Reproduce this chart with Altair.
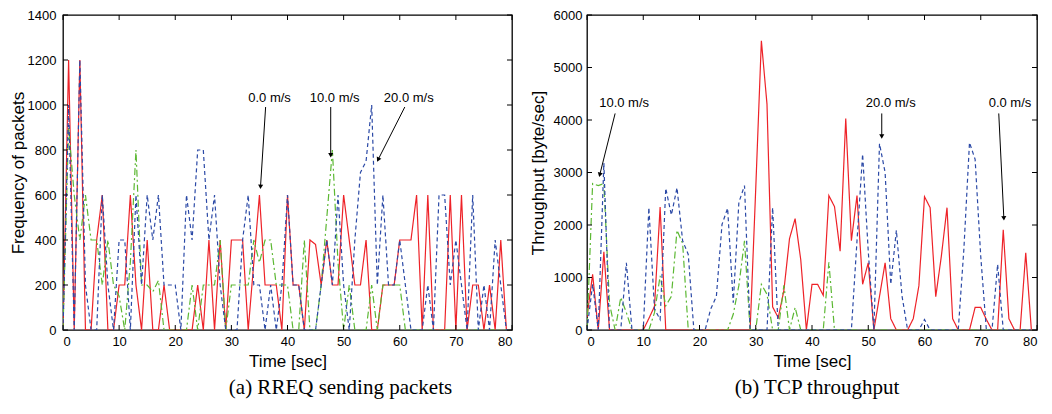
import altair as alt
import pandas as pd

# ---------------- data ----------------
time_s = list(range(80))
series_names = ["0.0 m/s", "10.0 m/s", "20.0 m/s"]
line_colors = ["#ee2228", "#5cb833", "#2b49a6"]
line_dashes = [[1, 0], [7, 3, 2, 3], [4, 3]]

x_ticks = [0, 10, 20, 30, 40, 50, 60, 70, 80]
rreq_ticks = [0, 200, 400, 600, 800, 1000, 1200, 1400]
tcp_ticks = [0, 1000, 2000, 3000, 4000, 5000, 6000]

# (a) RREQ sending packets
rreq_0 = [0, 1200, 0, 1200, 0, 0, 400, 600, 0, 0,
          200, 200, 600, 200, 0, 400, 0, 0, 200, 0,
          0, 0, 0, 0, 200, 0, 400, 0, 400, 0,
          400, 400, 400, 0, 300, 600, 200, 200, 200, 0,
          600, 200, 200, 0, 400, 380, 200, 400, 200, 200,
          600, 400, 200, 200, 400, 0, 0, 200, 200, 200,
          400, 400, 400, 600, 0, 600, 0, 0, 0, 600,
          0, 600, 0, 200, 200, 0, 200, 0, 400, 0]
rreq_10 = [0, 900, 600, 400, 600, 400, 400, 200, 400, 200,
           150, 0, 300, 800, 200, 200, 170, 220, 0, 0,
           0, 0, 0, 200, 0, 200, 200, 200, 400, 0,
           200, 200, 200, 200, 400, 300, 400, 400, 200, 200,
           200, 0, 0, 400, 0, 0, 200, 500, 800, 300,
           0, 200, 0, 0, 0, 200, 0, 200, 200, 200,
           200, 0, 0, 0, 0, 0, 0, 0, 0, 0,
           0, 0, 0, 0, 0, 0, 0, 0, 0, 0]
rreq_20 = [0, 1000, 0, 1200, 200, 0, 0, 600, 200, 0,
           400, 400, 0, 600, 200, 600, 400, 600, 200, 200,
           200, 0, 600, 400, 800, 800, 400, 600, 200, 0,
           0, 0, 400, 600, 200, 200, 0, 200, 0, 200,
           600, 200, 200, 0, 0, 0, 200, 400, 200, 600,
           200, 0, 400, 700, 750, 1000, 200, 600, 200, 200,
           400, 200, 0, 0, 0, 200, 0, 600, 600, 200,
           400, 200, 0, 600, 0, 200, 0, 400, 200, 0]

# (b) TCP throughput
tcp_0 = [250, 1060, 0, 1490, 0, 0, 0, 0, 0, 0,
         0, 220, 450, 2340, 0, 0, 0, 0, 0, 0,
         0, 0, 0, 0, 0, 0, 0, 0, 0, 0,
         2700, 5510, 4300, 440, 235, 750, 1740, 2120, 1340, 0,
         870, 870, 660, 2560, 2350, 1500, 4030, 1700, 2560, 870,
         1280, 0, 640, 1280, 216, 0, 0, 0, 216, 840,
         2540, 2330, 635, 1410, 2330, 216, 0, 0, 0, 430,
         430, 200, 0, 0, 1910, 216, 0, 0, 1470, 0]
tcp_10 = [0, 2790, 2750, 2790, 500, 0, 620, 330, 0, 0,
          0, 0, 330, 1030, 460, 640, 1900, 1650, 0, 0,
          0, 0, 0, 0, 0, 0, 300, 850, 1700, 0,
          0, 870, 680, 0, 0, 850, 0, 430, 0, 0,
          0, 0, 0, 1290, 0, 0, 0, 0, 0, 0,
          0, 0, 0, 0, 0, 0, 0, 0, 0, 0,
          0, 0, 0, 0, 0, 0, 0, 0, 0, 0,
          0, 0, 0, 0, 0, 0, 0, 0, 0, 0]
tcp_20 = [0, 870, 0, 3180, 0, 0, 0, 1280, 0, 0,
          0, 2330, 400, 200, 2700, 2190, 2710, 1700, 1440, 0,
          0, 0, 400, 640, 2010, 2320, 520, 2430, 2750, 0,
          0, 0, 0, 2330, 0, 0, 0, 0, 0, 0,
          0, 0, 0, 0, 0, 0, 0, 0, 1700, 3350,
          1500, 0, 3550, 3000, 870, 1900, 650, 0, 0, 0,
          200, 0, 0, 0, 0, 0, 0, 1540, 3570, 3250,
          1400, 0, 0, 1250, 0, 0, 0, 0, 0, 0]

# annotations (data coordinates)
rreq_ann_text = ["0.0 m/s", "10.0 m/s", "20.0 m/s"]
rreq_ann_tx = [36.8, 48.4, 61.6]
rreq_ann_ty = [1031, 1031, 1031]
rreq_arrow_x1 = [36.1, 47.7, 60.9]
rreq_arrow_y1 = [991, 991, 991]
rreq_arrow_x2 = [35.2, 47.7, 56.2]
rreq_arrow_y2 = [640, 780, 760]
rreq_arrow_angle = [183.5, 180, 205.7]

tcp_ann_text = ["10.0 m/s", "20.0 m/s", "0.0 m/s"]
tcp_ann_tx = [6.6, 54.0, 75.2]
tcp_ann_ty = [4316, 4316, 4316]
tcp_arrow_x1 = [5.0, 52.4, 73.2]
tcp_arrow_y1 = [4125, 4125, 4125]
tcp_arrow_x2 = [2.3, 52.4, 74.1]
tcp_arrow_y2 = [2970, 3700, 2140]
tcp_arrow_angle = [194.3, 180, 177.3]

FONT = "Liberation Sans"


def long_df(a, b, c):
    rows = []
    for name, vals in zip(series_names, (a, b, c)):
        for t, v in zip(time_s, vals):
            rows.append({"t": t, "v": v, "s": name})
    return pd.DataFrame(rows)


def panel(vals, yticks, ymax, ytitle, ann, caption, cap_dx, W, H,
          y_lab_pad, y_title_pad, x_lab_pad, x_title_pad):
    df = long_df(*vals)
    xs = alt.Scale(domain=[0, 80], nice=False, zero=False)
    ys = alt.Scale(domain=[0, ymax], nice=False)
    xa = alt.Axis(values=x_ticks, title="Time [sec]", format="d",
                  labelPadding=x_lab_pad, titlePadding=x_title_pad)
    ya = alt.Axis(values=yticks, title=ytitle, format="d",
                  labelPadding=y_lab_pad, titlePadding=y_title_pad)

    lines = alt.Chart(df).mark_line(strokeWidth=1.2, clip=True).encode(
        x=alt.X("t:Q", scale=xs, axis=xa),
        y=alt.Y("v:Q", scale=ys, axis=ya),
        color=alt.Color("s:N", scale=alt.Scale(domain=series_names, range=line_colors),
                        legend=None),
        strokeDash=alt.StrokeDash("s:N", scale=alt.Scale(domain=series_names, range=line_dashes),
                                  legend=None),
    )

    xt = pd.DataFrame({"t": x_ticks})
    yt = pd.DataFrame({"v": yticks})
    tick_style = dict(color="black", strokeWidth=1)
    t_top = alt.Chart(xt).mark_rule(**tick_style).encode(
        x=alt.X("t:Q", scale=xs, axis=xa), y=alt.value(0), y2=alt.value(5))
    t_bot = alt.Chart(xt).mark_rule(**tick_style).encode(
        x=alt.X("t:Q", scale=xs, axis=xa), y=alt.value(H), y2=alt.value(H - 5))
    t_left = alt.Chart(yt).mark_rule(**tick_style).encode(
        y=alt.Y("v:Q", scale=ys, axis=ya), x=alt.value(0), x2=alt.value(5))
    t_right = alt.Chart(yt).mark_rule(**tick_style).encode(
        y=alt.Y("v:Q", scale=ys, axis=ya), x=alt.value(W), x2=alt.value(W - 5))

    text, tx, ty, x1, y1, x2, y2, ang = ann
    adf = pd.DataFrame({"t": tx, "v": ty, "label": text, "x1": x1, "y1": y1,
                        "x2": x2, "y2": y2, "ang": ang})
    arr = alt.Chart(adf).mark_rule(color="black", strokeWidth=1).encode(
        x=alt.X("x1:Q", scale=xs, axis=xa), y=alt.Y("y1:Q", scale=ys, axis=ya),
        x2="x2:Q", y2="y2:Q")
    head = alt.Chart(adf).mark_point(shape="triangle", filled=True, size=26,
                                     color="black", opacity=1).encode(
        x=alt.X("x2:Q", scale=xs, axis=xa), y=alt.Y("y2:Q", scale=ys, axis=ya),
        angle=alt.Angle("ang:Q", scale=None))
    txt = alt.Chart(adf).mark_text(font=FONT, fontSize=13, color="black",
                                   align="center", baseline="middle").encode(
        x=alt.X("t:Q", scale=xs, axis=xa), y=alt.Y("v:Q", scale=ys, axis=ya),
        text="label:N")

    return alt.layer(lines, t_top, t_bot, t_left, t_right, arr, head, txt).properties(
        width=W, height=H,
        title=alt.TitleParams(caption, orient="bottom", anchor="middle", frame="group",
                              dx=cap_dx, offset=8, font="Liberation Serif", fontSize=21,
                              fontWeight="normal", color="black"))


left = panel((rreq_0, rreq_10, rreq_20), rreq_ticks, 1400, "Frequency of packets",
             (rreq_ann_text, rreq_ann_tx, rreq_ann_ty, rreq_arrow_x1, rreq_arrow_y1,
              rreq_arrow_x2, rreq_arrow_y2, rreq_arrow_angle),
             "(a) RREQ sending packets", 53, 449, 315,
             y_lab_pad=7, y_title_pad=0, x_lab_pad=5, x_title_pad=5)

right = panel((tcp_0, tcp_10, tcp_20), tcp_ticks, 6000, "Throughput [byte/sec]",
              (tcp_ann_text, tcp_ann_tx, tcp_ann_ty, tcp_arrow_x1, tcp_arrow_y1,
               tcp_arrow_x2, tcp_arrow_y2, tcp_arrow_angle),
              "(b) TCP throughput", 5, 450, 315,
              y_lab_pad=5, y_title_pad=6, x_lab_pad=5, x_title_pad=5)

chart = alt.hconcat(left, right, spacing=14).properties(
    padding={"left": 0, "top": 0, "right": 0, "bottom": 0},
    background="white",
).configure_view(
    stroke="black", strokeWidth=1.3
).configure_axis(
    domain=False, ticks=False, grid=False,
    labelFont=FONT, labelFontSize=13, labelColor="black",
    titleFont=FONT, titleFontSize=17, titleFontWeight="normal", titleColor="black",
)

chart.save("out.html", embed_options={"renderer": "svg", "actions": False})
